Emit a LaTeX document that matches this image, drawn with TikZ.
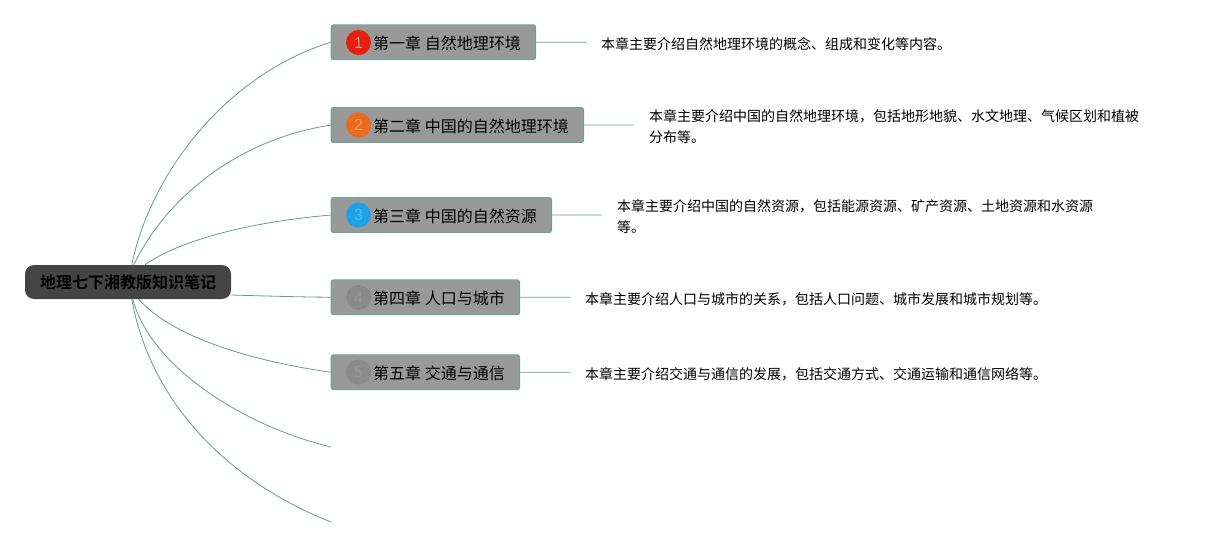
\documentclass[tikz,border=0pt]{standalone}
\usepackage{fontspec}
\setmainfont{Noto Sans CJK SC}[BoldFont={Noto Sans CJK SC Bold}]
\newfontfamily\latinbadge{Liberation Sans}
\definecolor{edgegreen}{HTML}{669C8B}
\definecolor{boxgrey}{HTML}{999999}
\definecolor{boxedge}{HTML}{6FA595}
\definecolor{rootgrey}{HTML}{444444}
\definecolor{bred}{HTML}{E5200F}
\definecolor{bredt}{HTML}{F08C80}
\definecolor{borange}{HTML}{E96B1B}
\definecolor{boranget}{HTML}{F29A5F}
\definecolor{bblue}{HTML}{1FA0E8}
\definecolor{bbluet}{HTML}{5ABAEF}
\definecolor{bgrey}{HTML}{8A8A8A}
\definecolor{bgreyt}{HTML}{979797}
\tikzset{
  x=1pt,y=-1pt,
  link/.style={draw=edgegreen,line width=0.8pt},
  chapter/.style={draw=boxedge,line width=1pt,fill=boxgrey,rounded corners=2pt,minimum height=34.7pt,anchor=north west,inner sep=0pt},
  chaptext/.style={anchor=west,inner sep=0pt,font=\fontsize{16pt}{20pt}\selectfont,text=black},
  rootbox/.style={fill=rootgrey,rounded corners=9pt,minimum width=206pt,minimum height=34pt,inner sep=0pt,font=\fontsize{16pt}{20pt}\selectfont\bfseries,text=black},
  badge/.style={circle,minimum size=25pt,inner sep=0pt,font=\latinbadge\fontsize{16pt}{20pt}\selectfont},
  desc/.style={anchor=north west,inner sep=0pt,align=left,font=\fontsize{14pt}{21pt}\selectfont,text=black},
}
\begin{document}
\begin{tikzpicture}
\useasboundingbox (0,0) rectangle (1209,548);
\node[rootbox,text depth=-1pt] (root) at (128,282) {地理七下湘教版知识笔记};
\node[chapter,minimum width=204.3pt] (c1) at (330.7,24.4) {};
\node[chapter,minimum width=252.3pt] (c2) at (330.7,107.2) {};
\node[chapter,minimum width=220.3pt] (c3) at (330.7,197.2) {};
\node[chapter,minimum width=188.3pt] (c4) at (330.7,279.4) {};
\node[chapter,minimum width=188.3pt] (c5) at (330.7,354.4) {};
\node[chaptext] (t1) at (373,43) {第一章 自然地理环境};
\node[chaptext] (t2) at (373,126) {第二章 中国的自然地理环境};
\node[chaptext] (t3) at (373,216) {第三章 中国的自然资源};
\node[chaptext] (t4) at (373,298) {第四章 人口与城市};
\node[chaptext] (t5) at (373,373) {第五章 交通与通信};
\node[badge,fill=bred,text=bredt] (b1) at (358.5,42.5) {1};
\node[badge,fill=borange,text=boranget] (b2) at (358.5,125) {2};
\node[badge,fill=bblue,text=bbluet] (b3) at (358.5,215) {3};
\node[badge,fill=bgrey,text=bgreyt] (b4) at (358.5,297.5) {4};
\node[badge,fill=bgrey,text=bgreyt] (b5) at (358.5,372) {5};
\coordinate (d1) at (587,42.25);
\coordinate (d2) at (634,125.05);
\coordinate (d3) at (602,215.05);
\coordinate (d4) at (570,297.25);
\coordinate (d5) at (570,372.25);
\coordinate (e6) at (331,447);
\coordinate (e7) at (331,522);
\draw[link] ([xshift=107pt]root.north west) .. controls (150,175) and (225,75) .. (c1.west);
\draw[link] ([xshift=109pt]root.north west) .. controls (165,200) and (235,140) .. (c2.west);
\draw[link] ([xshift=120pt]root.north west) .. controls (180,240) and (250,222) .. (c3.west);
\draw[link] ([yshift=-13pt]root.east) .. controls (265,296) and (300,297) .. (c4.west);
\draw[link] ([xshift=114pt]root.south west) .. controls (170,335) and (245,360) .. (c5.west);
\draw[link] ([xshift=108pt]root.south west) .. controls (150,365) and (240,425) .. (e6);
\draw[link] ([xshift=107pt]root.south west) .. controls (150,400) and (225,480) .. (e7);
\draw[link] (c1.east) -- (d1);
\draw[link] (c2.east) -- (d2);
\draw[link] (c3.east) -- (d3);
\draw[link] (c4.east) -- (d4);
\draw[link] (c5.east) -- (d5);
\node[desc] (n1) at (601,37) {本章主要介绍自然地理环境的概念、组成和变化等内容。};
\node[desc] (n2) at (649,109) {本章主要介绍中国的自然地理环境，包括地形地貌、水文地理、气候区划和植被\\分布等。};
\node[desc] (n3) at (617,199) {本章主要介绍中国的自然资源，包括能源资源、矿产资源、土地资源和水资源\\等。};
\node[desc] (n4) at (585,292) {本章主要介绍人口与城市的关系，包括人口问题、城市发展和城市规划等。};
\node[desc] (n5) at (585,367) {本章主要介绍交通与通信的发展，包括交通方式、交通运输和通信网络等。};
\end{tikzpicture}
\end{document}
